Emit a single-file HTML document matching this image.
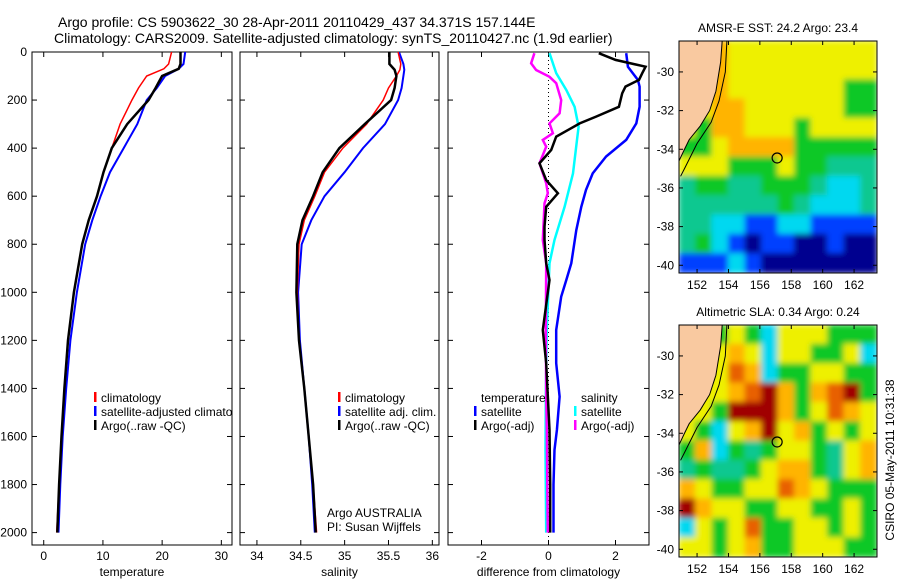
<!DOCTYPE html>
<html><head><meta charset="utf-8"><style>
html,body{margin:0;padding:0;background:#fff}
svg{display:block;font-family:"Liberation Sans",sans-serif}
text{font-size:12px;fill:#000}
</style></head><body>
<svg id="fig" width="900" height="580" viewBox="0 0 900 580" xmlns="http://www.w3.org/2000/svg">
<defs>
<filter id="bl1" filterUnits="userSpaceOnUse" x="679" y="41" width="198" height="232"><feGaussianBlur stdDeviation="3"/></filter>
<filter id="bl2" filterUnits="userSpaceOnUse" x="679" y="325" width="198" height="232"><feGaussianBlur stdDeviation="3"/></filter>
<clipPath id="c1"><rect x="32" y="52" width="200" height="493"/></clipPath>
<clipPath id="c2"><rect x="240" y="52" width="199" height="493"/></clipPath>
<clipPath id="c3"><rect x="448" y="52" width="201" height="493"/></clipPath>
<clipPath id="m1"><rect x="679" y="41" width="198" height="232"/></clipPath>
<clipPath id="m2"><rect x="679" y="325" width="198" height="232"/></clipPath>
</defs>
<text x="58" y="27" style="font-size:14px">Argo profile: CS 5903622_30 28-Apr-2011 20110429_437 34.371S 157.144E</text>
<text x="54" y="43" style="font-size:14px">Climatology: CARS2009. Satellite-adjusted climatology: synTS_20110427.nc (1.9d earlier)</text>
<g id="g"></g>
</svg>
<script>
// ---- data ----
const tDepth=[0,50,70,100,150,200,300,400,500,600,700,800,1000,1200,1400,1600,1800,2000];
const tClim=[21.6,21.1,20.3,17.4,16.0,14.9,12.9,11.5,10.1,9.0,7.6,6.5,5.1,4.1,3.5,3.0,2.6,2.2];
const tSat=[23.9,23.6,22.8,20.5,19.1,17.4,15.8,13.5,11.2,9.6,8.2,7.0,5.6,4.5,3.8,3.2,2.8,2.5];
const tArgo=[23.1,23.1,22.8,20.0,18.9,17.7,14.1,11.5,10.1,9.0,7.6,6.5,5.1,4.1,3.5,3.0,2.6,2.3];
const sDepth=[0,50,74,100,150,200,300,400,500,600,700,800,1000,1200,1400,1600,1800,2000];
const sClim=[35.61,35.64,35.63,35.59,35.50,35.44,35.25,34.98,34.77,34.66,34.54,34.48,34.46,34.48,34.54,34.59,34.64,34.68];
const sSat=[35.62,35.67,35.68,35.67,35.65,35.61,35.46,35.21,35.00,34.77,34.62,34.51,34.47,34.49,34.54,34.59,34.63,34.66];
const sArgo=[35.51,35.51,35.57,35.59,35.57,35.53,35.23,34.94,34.75,34.64,34.52,34.46,34.45,34.48,34.54,34.59,34.64,34.67];
const dTSatDepth=[5,61,116,144,228,297,366,435,505,574,644,741,879,949,1018,1157,1295,1434,1573,1656,1800,2000];
const dTSat=[2.32,2.37,2.67,2.72,2.72,2.62,2.32,1.72,1.32,1.12,0.98,0.83,0.68,0.53,0.38,0.23,0.23,0.33,0.25,0.18,0.15,0.15];
const dTArgoDepth=[5,33,61,88,116,144,172,228,269,297,325,352,408,463,533,588,644,727,782,879,949,1157,1295,1573,1800,2000];
const dTArgo=[1.5,2.0,2.9,2.8,2.7,2.3,2.2,2.1,1.42,0.93,0.58,0.23,0.08,-0.27,-0.07,0.28,-0.07,-0.12,-0.12,-0.07,0.03,-0.17,-0.07,0.03,0.05,0.05];
const dSSatDepth=[5,88,158,228,311,366,505,644,782,879,1157,1434,1656,2000];
const dSSat=[0.03,0.23,0.53,0.78,0.9,0.85,0.73,0.48,0.18,0.03,-0.05,-0.08,-0.09,-0.07];
const dSArgoDepth=[5,47,75,103,130,200,255,297,338,366,394,463,546,588,630,782,879,1157,1434,1573,2000];
const dSArgo=[-0.42,-0.52,-0.37,0.03,0.23,0.38,0.33,0.03,0.13,-0.17,-0.07,-0.27,-0.07,-0.02,-0.12,-0.17,-0.07,-0.08,-0.07,-0.05,-0.02];
const depthTicks=[0,200,400,600,800,1000,1200,1400,1600,1800,2000];
const tTicks=[0,10,20,30];
const sTicks=[34,34.5,35,35.5,36];
const dTicks=[-2,0,2];
const lonTicks=[152,154,156,158,160,162];
const latTicks=[-30,-32,-34,-36,-38,-40];
const sstGrid=["OOOYYYYYYYYY","OOOYYYYYYYYY","YYOYYYYYYYGG","YYOOYYYYYYGG","YGOOYYYGYYYY","GGYOOOOGGGGG","YYYGGGYGGTTT","TGGTTGGGTCCT","TTTTTTGTCCCT","TTCCBBCCBBBB","TGCBNBBNNBNN","BBBCBNNNNNNN"];
const slaGrid=["GGGYGCYYYGGG","YYYOYCYYGGYC","YYYROCGGYYGG","YYYORDOGORDG","YYGDDDOGYROY","YGCYODYOGYGY","GOCGTGYYGTYO","TGTTGYOOGTYO","OYGGYYROYGGG","DOYYGGYYGGYG","CYGYRGGYYGYG","YYGYOGGYYYGG"];
const coast=[[150.85,-28.4],[153.6,-28.4],[153.5,-29.5],[153.2,-31],[152.8,-32],[152.2,-32.8],[151.5,-33.5],[151.2,-34],[150.85,-34.6]];
const shelf=[[153.9,-28.4],[153.8,-30],[153.4,-31.5],[152.9,-32.6],[152,-33.7],[151.2,-35],[150.95,-35.4]];
const floatPos=[157.1,-34.45];

const NS='http://www.w3.org/2000/svg';
const G=document.getElementById('g');
function el(tag,at,parent){const e=document.createElementNS(NS,tag);for(const k in at)e.setAttribute(k,at[k]);(parent||G).appendChild(e);return e;}
function txt(x,y,s,anchor,parent){const t=el('text',{x:x,y:y,'text-anchor':anchor||'start'},parent);t.textContent=s;return t;}
const yD=d=>52+d*0.2403;
const panels=[
 {x0:32,x1:232,v0:-1.98,v1:31.8,ticks:tTicks,lab:'temperature',clip:'c1',name:'temperature-panel'},
 {x0:240,x1:439,v0:33.807,v1:36.076,ticks:sTicks,lab:'salinity',clip:'c2',name:'salinity-panel'},
 {x0:448,x1:649,v0:-3.0,v1:3.0,ticks:dTicks,lab:'difference from climatology',clip:'c3',name:'difference-panel'}];
panels.forEach((p,i)=>{
  p.sx=v=>p.x0+(v-p.v0)/(p.v1-p.v0)*(p.x1-p.x0);
  const g=el('g',{});
  
  
  el('rect',{x:p.x0,y:52,width:p.x1-p.x0,height:493,fill:'#fff',stroke:'#000','stroke-width':1},g);
  depthTicks.forEach(d=>{const y=yD(d);
    el('line',{x1:p.x0,x2:p.x0+5,y1:y,y2:y,stroke:'#000'},g);
    el('line',{x1:p.x1-5,x2:p.x1,y1:y,y2:y,stroke:'#000'},g);
    if(i===0){const t=txt(27,y+4,String(d),'end',g);
      
      }
  });
  p.ticks.forEach(v=>{const x=p.sx(v);
    el('line',{x1:x,x2:x,y1:52,y2:57,stroke:'#000'},g);
    el('line',{x1:x,x2:x,y1:540,y2:545,stroke:'#000'},g);
    const t=txt(x,560,String(v),'middle',g);
    
    
  });
  const t=txt((p.x0+p.x1)/2,576,p.lab,'middle',g);
  
  
});
function series(p,vals,depths,color,w,name){
  const pts=vals.map((v,k)=>p.sx(v).toFixed(1)+','+yD(depths[k]).toFixed(1)).join(' ');
  const l=el('polyline',{points:pts,fill:'none',stroke:color,'stroke-width':w,'clip-path':'url(#'+p.clip+')'});
  
  
}
const P=panels;
el('line',{x1:P[2].sx(0),x2:P[2].sx(0),y1:52,y2:545,stroke:'#000','stroke-dasharray':'1,3'});
series(P[0],tSat,tDepth,'#0000ff',2,'temp-satellite-line');
series(P[0],tClim,tDepth,'#ff0000',1.5,'temp-climatology-line');
series(P[0],tArgo,tDepth,'#000',2.5,'temp-argo-line');
series(P[1],sSat,sDepth,'#0000ff',2,'sal-satellite-line');
series(P[1],sClim,sDepth,'#ff0000',1.5,'sal-climatology-line');
series(P[1],sArgo,sDepth,'#000',2.5,'sal-argo-line');
series(P[2],dSSat,dSSatDepth,'#00ffff',2.5,'diff-sal-satellite-line');
series(P[2],dTSat,dTSatDepth,'#0000ff',2.5,'diff-temp-satellite-line');
series(P[2],dSArgo,dSArgoDepth,'#ff00ff',2.5,'diff-sal-argo-line');
series(P[2],dTArgo,dTArgoDepth,'#000',2.5,'diff-temp-argo-line');
function legItem(x,y,color,label,clip){
  const g=el('g',{});
  
  
  if(color)el('rect',{x:x,y:y-10,width:2.5,height:10,fill:color},g);
  const t=txt(x+7,y,label,'start',g);
  if(clip)t.setAttribute('clip-path','url(#'+clip+')');
}
legItem(94,402,'#ff0000','climatology','c1');
legItem(94,416,'#0000ff','satellite-adjusted climatology','c1');
legItem(94,430,'#000','Argo(..raw -QC)','c1');
legItem(338,402,'#ff0000','climatology');
legItem(338,416,'#0000ff','satellite adj. clim.');
legItem(338,430,'#000','Argo(..raw -QC)');
legItem(474,402,null,'temperature');
legItem(474,416,'#0000ff','satellite');
legItem(474,430,'#000','Argo(-adj)');
legItem(574,402,null,'salinity');
legItem(574,416,'#00ffff','satellite');
legItem(574,430,'#ff00ff','Argo(-adj)');
let a=txt(327,517,'Argo AUSTRALIA');
a=txt(327,531,'PI: Susan Wijffels');
const COL={N:'#00008f',B:'#0040ff',C:'#00d8f0',T:'#10c890',G:'#10c828',L:'#a0f000',Y:'#eef000',O:'#ffb400',R:'#e86000',D:'#a00000'};
function map(top,grid,title,clip,filt,name){
  const x0=679,x1=877,y0=top,y1=top+232,lo0=150.85,lo1=163.46,la0=-28.4,la1=-40.4;
  const sx=v=>x0+(v-lo0)/(lo1-lo0)*(x1-x0), sy=v=>y0+(v-la0)/(la1-la0)*(y1-y0);
  const g=el('g',{});
  
  
  const gc=el('g',{'clip-path':'url(#'+clip+')'},g);
  const gb=el('g',{filter:'url(#'+filt+')'},gc);
  const nr=grid.length,nc=grid[0].length,cw=(x1-x0)/nc,ch=(y1-y0)/nr;
  grid.forEach((row,r)=>{for(let c=0;c<nc;c++){
    el('rect',{x:x0+c*cw-0.5,y:y0+r*ch-0.5,width:cw+1,height:ch+1,fill:COL[row[c]]},gb);}});
  const cp=coast.map(q=>sx(q[0])+','+sy(q[1])).join(' ');
  const land=el('polygon',{points:cp,fill:'#f9c9a0',stroke:'#000','stroke-width':1},gc);
  
  
  el('polyline',{points:shelf.map(q=>sx(q[0])+','+sy(q[1])).join(' '),fill:'none',stroke:'#000','stroke-width':1},gc);
  const fc=el('circle',{cx:sx(floatPos[0]),cy:sy(floatPos[1]),r:5,fill:'none',stroke:'#000','stroke-width':1.2},gc);
  
  
  el('rect',{x:x0,y:y0,width:x1-x0,height:y1-y0,fill:'none',stroke:'#000'},g);
  lonTicks.forEach(v=>{const x=sx(v);
    el('line',{x1:x,x2:x,y1:y0,y2:y0+4,stroke:'#000'},g);
    el('line',{x1:x,x2:x,y1:y1-4,y2:y1,stroke:'#000'},g);
    const t=txt(x,y1+16,String(v),'middle',g);
    
    });
  latTicks.forEach(v=>{const y=sy(v);
    el('line',{x1:x0,x2:x0+4,y1:y,y2:y,stroke:'#000'},g);
    el('line',{x1:x1-4,x2:x1,y1:y,y2:y,stroke:'#000'},g);
    const t=txt(x0-5,y+4,String(v),'end',g);
    
    });
  const t=txt(778,top-9,title,'middle',g);
  
  
}
map(41,sstGrid,'AMSR-E SST: 24.2 Argo: 23.4','m1','bl1','sst-map');
map(325,slaGrid,'Altimetric SLA: 0.34 Argo: 0.24','m2','bl2','sla-map');
const st=txt(0,0,'CSIRO 05-May-2011 10:31:38','middle');
st.setAttribute('transform','translate(894,460) rotate(-90)');


</script>
</body></html>
